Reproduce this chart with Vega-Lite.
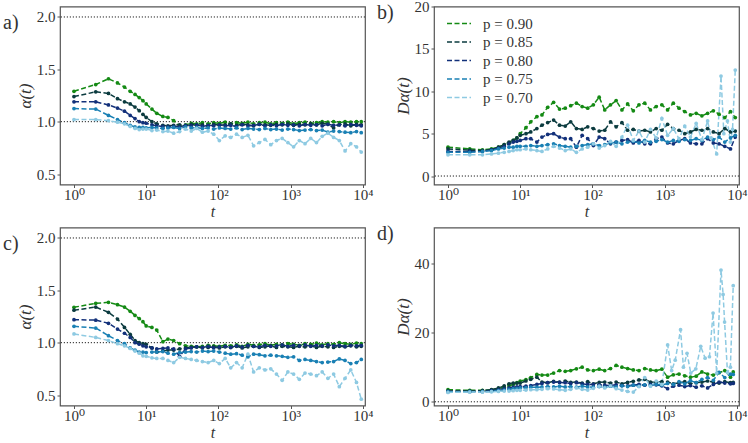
{
"$schema":"https://vega.github.io/schema/vega-lite/v6.json",
"padding":{"left":2,"top":-1.5,"right":0,"bottom":0},
"bounds":"flush",
"columns":2,
"spacing":{"row":43,"column":69},
"resolve":{"legend":{"color":"independent"}},
"config":{
"font":"Liberation Serif, DejaVu Serif, serif",
"view":{"stroke":"#555","strokeWidth":1.2},
"axis":{"grid":false,"domain":false,"ticks":true,"tickColor":"#555","tickSize":3,"labelFont":"Liberation Serif, DejaVu Serif, serif","labelFontSize":15,"labelColor":"#333","labelPadding":2,"titleFont":"Liberation Serif, DejaVu Serif, serif","titleFontSize":17,"titleFontWeight":"normal","titleFontStyle":"italic","titleColor":"#333","titlePadding":2},
"axisX":{"labelPadding":0,"titlePadding":1,"titleFontSize":16},
"title":{"font":"Liberation Serif, DejaVu Serif, serif","fontSize":20,"fontWeight":"normal","color":"#333","anchor":"start","frame":"group","orient":"none","baseline":"top"}
},
"datasets":{
"refA":[{"v":1},{"v":2}],
"refB":[{"v":0}],
"main":[
{"g":"a","p":"0.90","t":1,"v":1.29},{"g":"a","p":"0.90","t":2,"v":1.355},{"g":"a","p":"0.90","t":3,"v":1.41},{"g":"a","p":"0.90","t":4,"v":1.37},{"g":"a","p":"0.90","t":5,"v":1.33},{"g":"a","p":"0.90","t":6,"v":1.29},{"g":"a","p":"0.90","t":7,"v":1.26},{"g":"a","p":"0.90","t":8,"v":1.23},{"g":"a","p":"0.90","t":9,"v":1.2},{"g":"a","p":"0.90","t":10,"v":1.17},{"g":"a","p":"0.90","t":12,"v":1.12},{"g":"a","p":"0.90","t":14,"v":1.08},{"g":"a","p":"0.90","t":17,"v":1.05},{"g":"a","p":"0.90","t":20,"v":1.04},{"g":"a","p":"0.90","t":24,"v":1.01},{"g":"a","p":"0.90","t":29,"v":0.96},{"g":"a","p":"0.90","t":35,"v":0.97},{"g":"a","p":"0.90","t":42,"v":0.985},{"g":"a","p":"0.90","t":50,"v":0.98},{"g":"a","p":"0.90","t":60,"v":0.99},{"g":"a","p":"0.90","t":72,"v":0.98},{"g":"a","p":"0.90","t":86,"v":0.99},{"g":"a","p":"0.90","t":103,"v":0.985},{"g":"a","p":"0.90","t":124,"v":0.995},{"g":"a","p":"0.90","t":148,"v":0.98},{"g":"a","p":"0.90","t":178,"v":0.99},{"g":"a","p":"0.90","t":213,"v":0.985},{"g":"a","p":"0.90","t":256,"v":0.995},{"g":"a","p":"0.90","t":307,"v":0.98},{"g":"a","p":"0.90","t":368,"v":0.99},{"g":"a","p":"0.90","t":441,"v":0.995},{"g":"a","p":"0.90","t":530,"v":0.98},{"g":"a","p":"0.90","t":636,"v":0.99},{"g":"a","p":"0.90","t":763,"v":0.985},{"g":"a","p":"0.90","t":915,"v":0.995},{"g":"a","p":"0.90","t":1098,"v":0.98},{"g":"a","p":"0.90","t":1318,"v":0.99},{"g":"a","p":"0.90","t":1581,"v":0.995},{"g":"a","p":"0.90","t":1897,"v":0.985},{"g":"a","p":"0.90","t":2277,"v":0.99},{"g":"a","p":"0.90","t":2732,"v":1.0},{"g":"a","p":"0.90","t":3278,"v":0.995},{"g":"a","p":"0.90","t":3934,"v":1.0},{"g":"a","p":"0.90","t":4721,"v":0.99},{"g":"a","p":"0.90","t":5665,"v":1.0},{"g":"a","p":"0.90","t":6798,"v":0.995},{"g":"a","p":"0.90","t":8158,"v":1.0},{"g":"a","p":"0.90","t":9500,"v":1.0},
{"g":"a","p":"0.85","t":1,"v":1.24},{"g":"a","p":"0.85","t":2,"v":1.285},{"g":"a","p":"0.85","t":3,"v":1.27},{"g":"a","p":"0.85","t":4,"v":1.22},{"g":"a","p":"0.85","t":5,"v":1.19},{"g":"a","p":"0.85","t":6,"v":1.17},{"g":"a","p":"0.85","t":7,"v":1.14},{"g":"a","p":"0.85","t":8,"v":1.105},{"g":"a","p":"0.85","t":9,"v":1.07},{"g":"a","p":"0.85","t":10,"v":1.04},{"g":"a","p":"0.85","t":12,"v":1.0},{"g":"a","p":"0.85","t":14,"v":0.98},{"g":"a","p":"0.85","t":17,"v":0.965},{"g":"a","p":"0.85","t":20,"v":0.96},{"g":"a","p":"0.85","t":24,"v":0.965},{"g":"a","p":"0.85","t":29,"v":0.97},{"g":"a","p":"0.85","t":35,"v":0.96},{"g":"a","p":"0.85","t":42,"v":0.975},{"g":"a","p":"0.85","t":50,"v":0.965},{"g":"a","p":"0.85","t":60,"v":0.97},{"g":"a","p":"0.85","t":72,"v":0.96},{"g":"a","p":"0.85","t":86,"v":0.975},{"g":"a","p":"0.85","t":103,"v":0.965},{"g":"a","p":"0.85","t":124,"v":0.97},{"g":"a","p":"0.85","t":148,"v":0.98},{"g":"a","p":"0.85","t":178,"v":0.965},{"g":"a","p":"0.85","t":213,"v":0.975},{"g":"a","p":"0.85","t":256,"v":0.97},{"g":"a","p":"0.85","t":307,"v":0.96},{"g":"a","p":"0.85","t":368,"v":0.975},{"g":"a","p":"0.85","t":441,"v":0.97},{"g":"a","p":"0.85","t":530,"v":0.965},{"g":"a","p":"0.85","t":636,"v":0.975},{"g":"a","p":"0.85","t":763,"v":0.97},{"g":"a","p":"0.85","t":915,"v":0.98},{"g":"a","p":"0.85","t":1098,"v":0.965},{"g":"a","p":"0.85","t":1318,"v":0.975},{"g":"a","p":"0.85","t":1581,"v":0.97},{"g":"a","p":"0.85","t":1897,"v":0.98},{"g":"a","p":"0.85","t":2277,"v":0.97},{"g":"a","p":"0.85","t":2732,"v":0.985},{"g":"a","p":"0.85","t":3278,"v":0.975},{"g":"a","p":"0.85","t":3934,"v":0.94},{"g":"a","p":"0.85","t":4721,"v":0.97},{"g":"a","p":"0.85","t":5665,"v":0.98},{"g":"a","p":"0.85","t":6798,"v":0.96},{"g":"a","p":"0.85","t":8158,"v":0.975},{"g":"a","p":"0.85","t":9500,"v":0.97},
{"g":"a","p":"0.80","t":1,"v":1.19},{"g":"a","p":"0.80","t":2,"v":1.19},{"g":"a","p":"0.80","t":3,"v":1.16},{"g":"a","p":"0.80","t":4,"v":1.13},{"g":"a","p":"0.80","t":5,"v":1.1},{"g":"a","p":"0.80","t":6,"v":1.06},{"g":"a","p":"0.80","t":7,"v":1.03},{"g":"a","p":"0.80","t":8,"v":1.0},{"g":"a","p":"0.80","t":9,"v":0.99},{"g":"a","p":"0.80","t":10,"v":0.985},{"g":"a","p":"0.80","t":12,"v":0.97},{"g":"a","p":"0.80","t":14,"v":0.96},{"g":"a","p":"0.80","t":17,"v":0.955},{"g":"a","p":"0.80","t":20,"v":0.95},{"g":"a","p":"0.80","t":24,"v":0.955},{"g":"a","p":"0.80","t":29,"v":0.95},{"g":"a","p":"0.80","t":35,"v":0.965},{"g":"a","p":"0.80","t":42,"v":0.96},{"g":"a","p":"0.80","t":50,"v":0.97},{"g":"a","p":"0.80","t":60,"v":0.955},{"g":"a","p":"0.80","t":72,"v":0.965},{"g":"a","p":"0.80","t":86,"v":0.96},{"g":"a","p":"0.80","t":103,"v":0.97},{"g":"a","p":"0.80","t":124,"v":0.96},{"g":"a","p":"0.80","t":148,"v":0.965},{"g":"a","p":"0.80","t":178,"v":0.955},{"g":"a","p":"0.80","t":213,"v":0.97},{"g":"a","p":"0.80","t":256,"v":0.96},{"g":"a","p":"0.80","t":307,"v":0.965},{"g":"a","p":"0.80","t":368,"v":0.975},{"g":"a","p":"0.80","t":441,"v":0.96},{"g":"a","p":"0.80","t":530,"v":0.97},{"g":"a","p":"0.80","t":636,"v":0.96},{"g":"a","p":"0.80","t":763,"v":0.975},{"g":"a","p":"0.80","t":915,"v":0.965},{"g":"a","p":"0.80","t":1098,"v":0.97},{"g":"a","p":"0.80","t":1318,"v":0.96},{"g":"a","p":"0.80","t":1581,"v":0.975},{"g":"a","p":"0.80","t":1897,"v":0.965},{"g":"a","p":"0.80","t":2277,"v":0.97},{"g":"a","p":"0.80","t":2732,"v":0.96},{"g":"a","p":"0.80","t":3278,"v":0.975},{"g":"a","p":"0.80","t":3934,"v":0.965},{"g":"a","p":"0.80","t":4721,"v":0.97},{"g":"a","p":"0.80","t":5665,"v":0.96},{"g":"a","p":"0.80","t":6798,"v":0.975},{"g":"a","p":"0.80","t":8158,"v":0.965},{"g":"a","p":"0.80","t":9500,"v":0.96},
{"g":"a","p":"0.75","t":1,"v":1.125},{"g":"a","p":"0.75","t":2,"v":1.12},{"g":"a","p":"0.75","t":3,"v":1.06},{"g":"a","p":"0.75","t":4,"v":1.02},{"g":"a","p":"0.75","t":5,"v":0.99},{"g":"a","p":"0.75","t":6,"v":0.965},{"g":"a","p":"0.75","t":7,"v":0.95},{"g":"a","p":"0.75","t":8,"v":0.945},{"g":"a","p":"0.75","t":9,"v":0.945},{"g":"a","p":"0.75","t":10,"v":0.94},{"g":"a","p":"0.75","t":12,"v":0.945},{"g":"a","p":"0.75","t":14,"v":0.94},{"g":"a","p":"0.75","t":17,"v":0.935},{"g":"a","p":"0.75","t":20,"v":0.94},{"g":"a","p":"0.75","t":24,"v":0.945},{"g":"a","p":"0.75","t":29,"v":0.935},{"g":"a","p":"0.75","t":35,"v":0.95},{"g":"a","p":"0.75","t":42,"v":0.94},{"g":"a","p":"0.75","t":50,"v":0.945},{"g":"a","p":"0.75","t":60,"v":0.935},{"g":"a","p":"0.75","t":72,"v":0.94},{"g":"a","p":"0.75","t":86,"v":0.93},{"g":"a","p":"0.75","t":103,"v":0.94},{"g":"a","p":"0.75","t":124,"v":0.935},{"g":"a","p":"0.75","t":148,"v":0.93},{"g":"a","p":"0.75","t":178,"v":0.94},{"g":"a","p":"0.75","t":213,"v":0.925},{"g":"a","p":"0.75","t":256,"v":0.935},{"g":"a","p":"0.75","t":307,"v":0.93},{"g":"a","p":"0.75","t":368,"v":0.925},{"g":"a","p":"0.75","t":441,"v":0.935},{"g":"a","p":"0.75","t":530,"v":0.925},{"g":"a","p":"0.75","t":636,"v":0.93},{"g":"a","p":"0.75","t":763,"v":0.92},{"g":"a","p":"0.75","t":915,"v":0.93},{"g":"a","p":"0.75","t":1098,"v":0.925},{"g":"a","p":"0.75","t":1318,"v":0.915},{"g":"a","p":"0.75","t":1581,"v":0.92},{"g":"a","p":"0.75","t":1897,"v":0.925},{"g":"a","p":"0.75","t":2277,"v":0.915},{"g":"a","p":"0.75","t":2732,"v":0.92},{"g":"a","p":"0.75","t":3278,"v":0.9},{"g":"a","p":"0.75","t":3934,"v":0.91},{"g":"a","p":"0.75","t":4721,"v":0.905},{"g":"a","p":"0.75","t":5665,"v":0.9},{"g":"a","p":"0.75","t":6798,"v":0.895},{"g":"a","p":"0.75","t":8158,"v":0.905},{"g":"a","p":"0.75","t":9500,"v":0.895},
{"g":"a","p":"0.70","t":1,"v":1.02},{"g":"a","p":"0.70","t":2,"v":1.02},{"g":"a","p":"0.70","t":3,"v":1.01},{"g":"a","p":"0.70","t":4,"v":0.995},{"g":"a","p":"0.70","t":5,"v":0.98},{"g":"a","p":"0.70","t":6,"v":0.955},{"g":"a","p":"0.70","t":7,"v":0.935},{"g":"a","p":"0.70","t":8,"v":0.925},{"g":"a","p":"0.70","t":9,"v":0.93},{"g":"a","p":"0.70","t":10,"v":0.93},{"g":"a","p":"0.70","t":12,"v":0.915},{"g":"a","p":"0.70","t":14,"v":0.92},{"g":"a","p":"0.70","t":17,"v":0.905},{"g":"a","p":"0.70","t":20,"v":0.91},{"g":"a","p":"0.70","t":24,"v":0.89},{"g":"a","p":"0.70","t":29,"v":0.905},{"g":"a","p":"0.70","t":35,"v":0.93},{"g":"a","p":"0.70","t":42,"v":0.91},{"g":"a","p":"0.70","t":50,"v":0.935},{"g":"a","p":"0.70","t":60,"v":0.9},{"g":"a","p":"0.70","t":72,"v":0.91},{"g":"a","p":"0.70","t":86,"v":0.88},{"g":"a","p":"0.70","t":103,"v":0.82},{"g":"a","p":"0.70","t":124,"v":0.865},{"g":"a","p":"0.70","t":148,"v":0.85},{"g":"a","p":"0.70","t":178,"v":0.88},{"g":"a","p":"0.70","t":213,"v":0.85},{"g":"a","p":"0.70","t":256,"v":0.87},{"g":"a","p":"0.70","t":307,"v":0.77},{"g":"a","p":"0.70","t":368,"v":0.8},{"g":"a","p":"0.70","t":441,"v":0.83},{"g":"a","p":"0.70","t":530,"v":0.78},{"g":"a","p":"0.70","t":636,"v":0.82},{"g":"a","p":"0.70","t":763,"v":0.84},{"g":"a","p":"0.70","t":915,"v":0.8},{"g":"a","p":"0.70","t":1098,"v":0.76},{"g":"a","p":"0.70","t":1318,"v":0.82},{"g":"a","p":"0.70","t":1581,"v":0.79},{"g":"a","p":"0.70","t":1897,"v":0.84},{"g":"a","p":"0.70","t":2277,"v":0.8},{"g":"a","p":"0.70","t":2732,"v":0.86},{"g":"a","p":"0.70","t":3278,"v":0.89},{"g":"a","p":"0.70","t":3934,"v":0.85},{"g":"a","p":"0.70","t":4721,"v":0.82},{"g":"a","p":"0.70","t":5665,"v":0.72},{"g":"a","p":"0.70","t":6798,"v":0.79},{"g":"a","p":"0.70","t":8158,"v":0.76},{"g":"a","p":"0.70","t":9500,"v":0.71},
{"g":"b","p":"0.90","t":1,"v":3.4},{"g":"b","p":"0.90","t":2,"v":3.2},{"g":"b","p":"0.90","t":3,"v":3.1},{"g":"b","p":"0.90","t":4,"v":3.2},{"g":"b","p":"0.90","t":5,"v":3.4},{"g":"b","p":"0.90","t":6,"v":3.7},{"g":"b","p":"0.90","t":7,"v":3.9},{"g":"b","p":"0.90","t":8,"v":4.2},{"g":"b","p":"0.90","t":9,"v":4.5},{"g":"b","p":"0.90","t":10,"v":5.0},{"g":"b","p":"0.90","t":12,"v":5.7},{"g":"b","p":"0.90","t":14,"v":6.4},{"g":"b","p":"0.90","t":17,"v":7.0},{"g":"b","p":"0.90","t":20,"v":7.2},{"g":"b","p":"0.90","t":24,"v":8.1},{"g":"b","p":"0.90","t":29,"v":8.7},{"g":"b","p":"0.90","t":35,"v":7.9},{"g":"b","p":"0.90","t":42,"v":8.0},{"g":"b","p":"0.90","t":50,"v":8.3},{"g":"b","p":"0.90","t":60,"v":8.6},{"g":"b","p":"0.90","t":72,"v":8.2},{"g":"b","p":"0.90","t":86,"v":8.0},{"g":"b","p":"0.90","t":103,"v":8.4},{"g":"b","p":"0.90","t":124,"v":9.3},{"g":"b","p":"0.90","t":148,"v":7.8},{"g":"b","p":"0.90","t":178,"v":8.4},{"g":"b","p":"0.90","t":213,"v":8.9},{"g":"b","p":"0.90","t":256,"v":7.8},{"g":"b","p":"0.90","t":307,"v":8.5},{"g":"b","p":"0.90","t":368,"v":7.7},{"g":"b","p":"0.90","t":441,"v":8.4},{"g":"b","p":"0.90","t":530,"v":8.6},{"g":"b","p":"0.90","t":636,"v":7.8},{"g":"b","p":"0.90","t":763,"v":8.2},{"g":"b","p":"0.90","t":915,"v":8.4},{"g":"b","p":"0.90","t":1098,"v":7.8},{"g":"b","p":"0.90","t":1318,"v":8.6},{"g":"b","p":"0.90","t":1581,"v":8.0},{"g":"b","p":"0.90","t":1897,"v":7.6},{"g":"b","p":"0.90","t":2277,"v":7.2},{"g":"b","p":"0.90","t":2732,"v":7.4},{"g":"b","p":"0.90","t":3278,"v":7.1},{"g":"b","p":"0.90","t":3934,"v":7.4},{"g":"b","p":"0.90","t":4721,"v":7.7},{"g":"b","p":"0.90","t":5665,"v":7.3},{"g":"b","p":"0.90","t":6798,"v":6.9},{"g":"b","p":"0.90","t":8158,"v":7.6},{"g":"b","p":"0.90","t":9500,"v":6.9},
{"g":"b","p":"0.85","t":1,"v":3.2},{"g":"b","p":"0.85","t":2,"v":3.05},{"g":"b","p":"0.85","t":3,"v":3.0},{"g":"b","p":"0.85","t":4,"v":3.1},{"g":"b","p":"0.85","t":5,"v":3.4},{"g":"b","p":"0.85","t":6,"v":3.7},{"g":"b","p":"0.85","t":7,"v":4.0},{"g":"b","p":"0.85","t":8,"v":4.2},{"g":"b","p":"0.85","t":9,"v":4.5},{"g":"b","p":"0.85","t":10,"v":4.8},{"g":"b","p":"0.85","t":12,"v":5.0},{"g":"b","p":"0.85","t":14,"v":5.2},{"g":"b","p":"0.85","t":17,"v":5.6},{"g":"b","p":"0.85","t":20,"v":6.0},{"g":"b","p":"0.85","t":24,"v":6.3},{"g":"b","p":"0.85","t":29,"v":6.6},{"g":"b","p":"0.85","t":35,"v":6.0},{"g":"b","p":"0.85","t":42,"v":5.9},{"g":"b","p":"0.85","t":50,"v":6.4},{"g":"b","p":"0.85","t":60,"v":5.6},{"g":"b","p":"0.85","t":72,"v":5.5},{"g":"b","p":"0.85","t":86,"v":5.8},{"g":"b","p":"0.85","t":103,"v":5.6},{"g":"b","p":"0.85","t":124,"v":5.3},{"g":"b","p":"0.85","t":148,"v":5.4},{"g":"b","p":"0.85","t":178,"v":6.4},{"g":"b","p":"0.85","t":213,"v":5.8},{"g":"b","p":"0.85","t":256,"v":6.3},{"g":"b","p":"0.85","t":307,"v":5.4},{"g":"b","p":"0.85","t":368,"v":5.5},{"g":"b","p":"0.85","t":441,"v":5.3},{"g":"b","p":"0.85","t":530,"v":5.4},{"g":"b","p":"0.85","t":636,"v":5.2},{"g":"b","p":"0.85","t":763,"v":5.6},{"g":"b","p":"0.85","t":915,"v":5.4},{"g":"b","p":"0.85","t":1098,"v":6.1},{"g":"b","p":"0.85","t":1318,"v":5.6},{"g":"b","p":"0.85","t":1581,"v":5.4},{"g":"b","p":"0.85","t":1897,"v":5.0},{"g":"b","p":"0.85","t":2277,"v":5.2},{"g":"b","p":"0.85","t":2732,"v":5.5},{"g":"b","p":"0.85","t":3278,"v":5.4},{"g":"b","p":"0.85","t":3934,"v":5.6},{"g":"b","p":"0.85","t":4721,"v":5.2},{"g":"b","p":"0.85","t":5665,"v":5.0},{"g":"b","p":"0.85","t":6798,"v":5.6},{"g":"b","p":"0.85","t":8158,"v":5.2},{"g":"b","p":"0.85","t":9500,"v":5.3},
{"g":"b","p":"0.80","t":1,"v":2.9},{"g":"b","p":"0.80","t":2,"v":2.9},{"g":"b","p":"0.80","t":3,"v":2.9},{"g":"b","p":"0.80","t":4,"v":3.1},{"g":"b","p":"0.80","t":5,"v":3.3},{"g":"b","p":"0.80","t":6,"v":3.5},{"g":"b","p":"0.80","t":7,"v":3.8},{"g":"b","p":"0.80","t":8,"v":4.0},{"g":"b","p":"0.80","t":9,"v":4.1},{"g":"b","p":"0.80","t":10,"v":4.2},{"g":"b","p":"0.80","t":12,"v":4.4},{"g":"b","p":"0.80","t":14,"v":4.4},{"g":"b","p":"0.80","t":17,"v":4.0},{"g":"b","p":"0.80","t":20,"v":4.6},{"g":"b","p":"0.80","t":24,"v":4.9},{"g":"b","p":"0.80","t":29,"v":5.0},{"g":"b","p":"0.80","t":35,"v":4.6},{"g":"b","p":"0.80","t":42,"v":4.4},{"g":"b","p":"0.80","t":50,"v":4.4},{"g":"b","p":"0.80","t":60,"v":3.4},{"g":"b","p":"0.80","t":72,"v":4.8},{"g":"b","p":"0.80","t":86,"v":4.4},{"g":"b","p":"0.80","t":103,"v":3.6},{"g":"b","p":"0.80","t":124,"v":4.6},{"g":"b","p":"0.80","t":148,"v":4.4},{"g":"b","p":"0.80","t":178,"v":3.8},{"g":"b","p":"0.80","t":213,"v":4.0},{"g":"b","p":"0.80","t":256,"v":4.2},{"g":"b","p":"0.80","t":307,"v":4.3},{"g":"b","p":"0.80","t":368,"v":3.9},{"g":"b","p":"0.80","t":441,"v":4.2},{"g":"b","p":"0.80","t":530,"v":3.8},{"g":"b","p":"0.80","t":636,"v":3.8},{"g":"b","p":"0.80","t":763,"v":4.4},{"g":"b","p":"0.80","t":915,"v":4.6},{"g":"b","p":"0.80","t":1098,"v":3.9},{"g":"b","p":"0.80","t":1318,"v":3.8},{"g":"b","p":"0.80","t":1581,"v":4.2},{"g":"b","p":"0.80","t":1897,"v":4.4},{"g":"b","p":"0.80","t":2277,"v":3.9},{"g":"b","p":"0.80","t":2732,"v":3.8},{"g":"b","p":"0.80","t":3278,"v":3.8},{"g":"b","p":"0.80","t":3934,"v":4.4},{"g":"b","p":"0.80","t":4721,"v":3.9},{"g":"b","p":"0.80","t":5665,"v":3.8},{"g":"b","p":"0.80","t":6798,"v":3.5},{"g":"b","p":"0.80","t":8158,"v":3.2},{"g":"b","p":"0.80","t":9500,"v":4.6},
{"g":"b","p":"0.75","t":1,"v":2.8},{"g":"b","p":"0.75","t":2,"v":2.8},{"g":"b","p":"0.75","t":3,"v":2.9},{"g":"b","p":"0.75","t":4,"v":3.0},{"g":"b","p":"0.75","t":5,"v":3.2},{"g":"b","p":"0.75","t":6,"v":3.3},{"g":"b","p":"0.75","t":7,"v":3.4},{"g":"b","p":"0.75","t":8,"v":3.4},{"g":"b","p":"0.75","t":9,"v":3.5},{"g":"b","p":"0.75","t":10,"v":3.5},{"g":"b","p":"0.75","t":12,"v":3.5},{"g":"b","p":"0.75","t":14,"v":3.6},{"g":"b","p":"0.75","t":17,"v":3.5},{"g":"b","p":"0.75","t":20,"v":3.6},{"g":"b","p":"0.75","t":24,"v":3.7},{"g":"b","p":"0.75","t":29,"v":3.8},{"g":"b","p":"0.75","t":35,"v":3.6},{"g":"b","p":"0.75","t":42,"v":3.5},{"g":"b","p":"0.75","t":50,"v":3.4},{"g":"b","p":"0.75","t":60,"v":3.5},{"g":"b","p":"0.75","t":72,"v":3.6},{"g":"b","p":"0.75","t":86,"v":3.7},{"g":"b","p":"0.75","t":103,"v":3.8},{"g":"b","p":"0.75","t":124,"v":3.6},{"g":"b","p":"0.75","t":148,"v":3.7},{"g":"b","p":"0.75","t":178,"v":3.9},{"g":"b","p":"0.75","t":213,"v":4.0},{"g":"b","p":"0.75","t":256,"v":3.8},{"g":"b","p":"0.75","t":307,"v":4.0},{"g":"b","p":"0.75","t":368,"v":4.1},{"g":"b","p":"0.75","t":441,"v":3.9},{"g":"b","p":"0.75","t":530,"v":4.2},{"g":"b","p":"0.75","t":636,"v":4.0},{"g":"b","p":"0.75","t":763,"v":4.1},{"g":"b","p":"0.75","t":915,"v":4.3},{"g":"b","p":"0.75","t":1098,"v":4.0},{"g":"b","p":"0.75","t":1318,"v":4.2},{"g":"b","p":"0.75","t":1581,"v":4.1},{"g":"b","p":"0.75","t":1897,"v":4.3},{"g":"b","p":"0.75","t":2277,"v":4.2},{"g":"b","p":"0.75","t":2732,"v":4.4},{"g":"b","p":"0.75","t":3278,"v":4.2},{"g":"b","p":"0.75","t":3934,"v":4.6},{"g":"b","p":"0.75","t":4721,"v":4.3},{"g":"b","p":"0.75","t":5665,"v":4.6},{"g":"b","p":"0.75","t":6798,"v":4.0},{"g":"b","p":"0.75","t":8158,"v":4.5},{"g":"b","p":"0.75","t":9500,"v":4.8},
{"g":"b","p":"0.70","t":1,"v":2.5},{"g":"b","p":"0.70","t":2,"v":2.5},{"g":"b","p":"0.70","t":3,"v":2.5},{"g":"b","p":"0.70","t":4,"v":2.6},{"g":"b","p":"0.70","t":5,"v":2.7},{"g":"b","p":"0.70","t":6,"v":2.8},{"g":"b","p":"0.70","t":7,"v":2.9},{"g":"b","p":"0.70","t":8,"v":3.0},{"g":"b","p":"0.70","t":9,"v":3.1},{"g":"b","p":"0.70","t":10,"v":3.1},{"g":"b","p":"0.70","t":12,"v":3.2},{"g":"b","p":"0.70","t":14,"v":3.1},{"g":"b","p":"0.70","t":17,"v":3.0},{"g":"b","p":"0.70","t":20,"v":2.9},{"g":"b","p":"0.70","t":24,"v":3.2},{"g":"b","p":"0.70","t":29,"v":3.5},{"g":"b","p":"0.70","t":35,"v":3.3},{"g":"b","p":"0.70","t":42,"v":3.0},{"g":"b","p":"0.70","t":50,"v":3.2},{"g":"b","p":"0.70","t":60,"v":2.8},{"g":"b","p":"0.70","t":72,"v":3.2},{"g":"b","p":"0.70","t":86,"v":3.4},{"g":"b","p":"0.70","t":103,"v":3.8},{"g":"b","p":"0.70","t":124,"v":3.3},{"g":"b","p":"0.70","t":148,"v":3.6},{"g":"b","p":"0.70","t":178,"v":4.1},{"g":"b","p":"0.70","t":213,"v":3.5},{"g":"b","p":"0.70","t":256,"v":4.6},{"g":"b","p":"0.70","t":307,"v":6.0},{"g":"b","p":"0.70","t":368,"v":4.2},{"g":"b","p":"0.70","t":441,"v":5.3},{"g":"b","p":"0.70","t":530,"v":4.0},{"g":"b","p":"0.70","t":636,"v":5.5},{"g":"b","p":"0.70","t":763,"v":4.5},{"g":"b","p":"0.70","t":915,"v":6.8},{"g":"b","p":"0.70","t":1098,"v":4.8},{"g":"b","p":"0.70","t":1318,"v":5.6},{"g":"b","p":"0.70","t":1581,"v":4.4},{"g":"b","p":"0.70","t":1897,"v":5.9},{"g":"b","p":"0.70","t":2277,"v":4.6},{"g":"b","p":"0.70","t":2732,"v":6.2},{"g":"b","p":"0.70","t":3278,"v":4.3},{"g":"b","p":"0.70","t":3934,"v":6.5},{"g":"b","p":"0.70","t":4400,"v":4.5},{"g":"b","p":"0.70","t":5250,"v":2.6},{"g":"b","p":"0.70","t":6030,"v":11.8},{"g":"b","p":"0.70","t":6600,"v":5.0},{"g":"b","p":"0.70","t":7400,"v":6.5},{"g":"b","p":"0.70","t":8130,"v":4.0},{"g":"b","p":"0.70","t":8700,"v":5.5},{"g":"b","p":"0.70","t":9500,"v":12.5},
{"g":"c","p":"0.90","t":1,"v":1.338},{"g":"c","p":"0.90","t":2,"v":1.376},{"g":"c","p":"0.90","t":3,"v":1.385},{"g":"c","p":"0.90","t":4,"v":1.363},{"g":"c","p":"0.90","t":5,"v":1.34},{"g":"c","p":"0.90","t":6,"v":1.3},{"g":"c","p":"0.90","t":7,"v":1.26},{"g":"c","p":"0.90","t":8,"v":1.23},{"g":"c","p":"0.90","t":9,"v":1.2},{"g":"c","p":"0.90","t":10,"v":1.16},{"g":"c","p":"0.90","t":12,"v":1.145},{"g":"c","p":"0.90","t":14,"v":1.12},{"g":"c","p":"0.90","t":17,"v":1.01},{"g":"c","p":"0.90","t":20,"v":1.035},{"g":"c","p":"0.90","t":24,"v":1.02},{"g":"c","p":"0.90","t":29,"v":0.99},{"g":"c","p":"0.90","t":35,"v":0.97},{"g":"c","p":"0.90","t":42,"v":0.965},{"g":"c","p":"0.90","t":50,"v":0.96},{"g":"c","p":"0.90","t":60,"v":0.965},{"g":"c","p":"0.90","t":72,"v":0.975},{"g":"c","p":"0.90","t":86,"v":0.97},{"g":"c","p":"0.90","t":103,"v":0.965},{"g":"c","p":"0.90","t":124,"v":0.975},{"g":"c","p":"0.90","t":148,"v":0.97},{"g":"c","p":"0.90","t":178,"v":0.98},{"g":"c","p":"0.90","t":213,"v":0.965},{"g":"c","p":"0.90","t":256,"v":0.985},{"g":"c","p":"0.90","t":307,"v":0.975},{"g":"c","p":"0.90","t":368,"v":0.98},{"g":"c","p":"0.90","t":441,"v":0.99},{"g":"c","p":"0.90","t":530,"v":0.975},{"g":"c","p":"0.90","t":636,"v":0.985},{"g":"c","p":"0.90","t":763,"v":0.98},{"g":"c","p":"0.90","t":915,"v":0.99},{"g":"c","p":"0.90","t":1098,"v":0.985},{"g":"c","p":"0.90","t":1318,"v":0.975},{"g":"c","p":"0.90","t":1581,"v":0.99},{"g":"c","p":"0.90","t":1897,"v":0.985},{"g":"c","p":"0.90","t":2277,"v":0.995},{"g":"c","p":"0.90","t":2732,"v":0.98},{"g":"c","p":"0.90","t":3278,"v":0.99},{"g":"c","p":"0.90","t":3934,"v":0.985},{"g":"c","p":"0.90","t":4721,"v":1.0},{"g":"c","p":"0.90","t":5665,"v":0.99},{"g":"c","p":"0.90","t":6798,"v":0.985},{"g":"c","p":"0.90","t":8158,"v":0.995},{"g":"c","p":"0.90","t":9500,"v":0.99},
{"g":"c","p":"0.85","t":1,"v":1.31},{"g":"c","p":"0.85","t":2,"v":1.34},{"g":"c","p":"0.85","t":3,"v":1.29},{"g":"c","p":"0.85","t":4,"v":1.226},{"g":"c","p":"0.85","t":5,"v":1.146},{"g":"c","p":"0.85","t":6,"v":1.08},{"g":"c","p":"0.85","t":7,"v":1.02},{"g":"c","p":"0.85","t":8,"v":1.0},{"g":"c","p":"0.85","t":9,"v":0.99},{"g":"c","p":"0.85","t":10,"v":0.985},{"g":"c","p":"0.85","t":12,"v":0.95},{"g":"c","p":"0.85","t":14,"v":0.91},{"g":"c","p":"0.85","t":17,"v":0.92},{"g":"c","p":"0.85","t":20,"v":0.93},{"g":"c","p":"0.85","t":24,"v":0.93},{"g":"c","p":"0.85","t":29,"v":0.94},{"g":"c","p":"0.85","t":35,"v":0.95},{"g":"c","p":"0.85","t":42,"v":0.955},{"g":"c","p":"0.85","t":50,"v":0.96},{"g":"c","p":"0.85","t":60,"v":0.95},{"g":"c","p":"0.85","t":72,"v":0.955},{"g":"c","p":"0.85","t":86,"v":0.96},{"g":"c","p":"0.85","t":103,"v":0.95},{"g":"c","p":"0.85","t":124,"v":0.96},{"g":"c","p":"0.85","t":148,"v":0.955},{"g":"c","p":"0.85","t":178,"v":0.965},{"g":"c","p":"0.85","t":213,"v":0.95},{"g":"c","p":"0.85","t":256,"v":0.96},{"g":"c","p":"0.85","t":307,"v":0.965},{"g":"c","p":"0.85","t":368,"v":0.955},{"g":"c","p":"0.85","t":441,"v":0.96},{"g":"c","p":"0.85","t":530,"v":0.97},{"g":"c","p":"0.85","t":636,"v":0.955},{"g":"c","p":"0.85","t":763,"v":0.965},{"g":"c","p":"0.85","t":915,"v":0.96},{"g":"c","p":"0.85","t":1098,"v":0.955},{"g":"c","p":"0.85","t":1318,"v":0.965},{"g":"c","p":"0.85","t":1581,"v":0.96},{"g":"c","p":"0.85","t":1897,"v":0.97},{"g":"c","p":"0.85","t":2277,"v":0.955},{"g":"c","p":"0.85","t":2732,"v":0.965},{"g":"c","p":"0.85","t":3278,"v":0.96},{"g":"c","p":"0.85","t":3934,"v":0.955},{"g":"c","p":"0.85","t":4721,"v":0.965},{"g":"c","p":"0.85","t":5665,"v":0.96},{"g":"c","p":"0.85","t":6798,"v":0.97},{"g":"c","p":"0.85","t":8158,"v":0.96},{"g":"c","p":"0.85","t":9500,"v":0.965},
{"g":"c","p":"0.80","t":1,"v":1.22},{"g":"c","p":"0.80","t":2,"v":1.215},{"g":"c","p":"0.80","t":3,"v":1.185},{"g":"c","p":"0.80","t":4,"v":1.13},{"g":"c","p":"0.80","t":5,"v":1.09},{"g":"c","p":"0.80","t":6,"v":1.05},{"g":"c","p":"0.80","t":7,"v":1.0},{"g":"c","p":"0.80","t":8,"v":0.985},{"g":"c","p":"0.80","t":9,"v":0.97},{"g":"c","p":"0.80","t":10,"v":0.96},{"g":"c","p":"0.80","t":12,"v":0.95},{"g":"c","p":"0.80","t":14,"v":0.94},{"g":"c","p":"0.80","t":17,"v":0.945},{"g":"c","p":"0.80","t":20,"v":0.95},{"g":"c","p":"0.80","t":24,"v":0.94},{"g":"c","p":"0.80","t":29,"v":0.87},{"g":"c","p":"0.80","t":35,"v":0.94},{"g":"c","p":"0.80","t":42,"v":0.95},{"g":"c","p":"0.80","t":50,"v":0.96},{"g":"c","p":"0.80","t":60,"v":0.955},{"g":"c","p":"0.80","t":72,"v":0.965},{"g":"c","p":"0.80","t":86,"v":0.95},{"g":"c","p":"0.80","t":103,"v":0.96},{"g":"c","p":"0.80","t":124,"v":0.965},{"g":"c","p":"0.80","t":148,"v":0.955},{"g":"c","p":"0.80","t":178,"v":0.97},{"g":"c","p":"0.80","t":213,"v":0.96},{"g":"c","p":"0.80","t":256,"v":0.975},{"g":"c","p":"0.80","t":307,"v":0.965},{"g":"c","p":"0.80","t":368,"v":0.96},{"g":"c","p":"0.80","t":441,"v":0.975},{"g":"c","p":"0.80","t":530,"v":0.965},{"g":"c","p":"0.80","t":636,"v":0.97},{"g":"c","p":"0.80","t":763,"v":0.98},{"g":"c","p":"0.80","t":915,"v":0.965},{"g":"c","p":"0.80","t":1098,"v":0.975},{"g":"c","p":"0.80","t":1318,"v":0.97},{"g":"c","p":"0.80","t":1581,"v":0.98},{"g":"c","p":"0.80","t":1897,"v":0.965},{"g":"c","p":"0.80","t":2277,"v":0.975},{"g":"c","p":"0.80","t":2732,"v":0.97},{"g":"c","p":"0.80","t":3278,"v":0.98},{"g":"c","p":"0.80","t":3934,"v":0.97},{"g":"c","p":"0.80","t":4721,"v":0.975},{"g":"c","p":"0.80","t":5665,"v":0.965},{"g":"c","p":"0.80","t":6798,"v":0.975},{"g":"c","p":"0.80","t":8158,"v":0.97},{"g":"c","p":"0.80","t":9500,"v":0.975},
{"g":"c","p":"0.75","t":1,"v":1.156},{"g":"c","p":"0.75","t":2,"v":1.14},{"g":"c","p":"0.75","t":3,"v":1.067},{"g":"c","p":"0.75","t":4,"v":1.02},{"g":"c","p":"0.75","t":5,"v":0.99},{"g":"c","p":"0.75","t":6,"v":0.95},{"g":"c","p":"0.75","t":7,"v":0.93},{"g":"c","p":"0.75","t":8,"v":0.91},{"g":"c","p":"0.75","t":9,"v":0.91},{"g":"c","p":"0.75","t":10,"v":0.905},{"g":"c","p":"0.75","t":12,"v":0.91},{"g":"c","p":"0.75","t":14,"v":0.91},{"g":"c","p":"0.75","t":17,"v":0.915},{"g":"c","p":"0.75","t":20,"v":0.9},{"g":"c","p":"0.75","t":24,"v":0.89},{"g":"c","p":"0.75","t":29,"v":0.905},{"g":"c","p":"0.75","t":35,"v":0.91},{"g":"c","p":"0.75","t":42,"v":0.915},{"g":"c","p":"0.75","t":50,"v":0.91},{"g":"c","p":"0.75","t":60,"v":0.92},{"g":"c","p":"0.75","t":72,"v":0.915},{"g":"c","p":"0.75","t":86,"v":0.92},{"g":"c","p":"0.75","t":103,"v":0.91},{"g":"c","p":"0.75","t":124,"v":0.9},{"g":"c","p":"0.75","t":148,"v":0.89},{"g":"c","p":"0.75","t":178,"v":0.895},{"g":"c","p":"0.75","t":213,"v":0.88},{"g":"c","p":"0.75","t":256,"v":0.865},{"g":"c","p":"0.75","t":307,"v":0.89},{"g":"c","p":"0.75","t":368,"v":0.885},{"g":"c","p":"0.75","t":441,"v":0.875},{"g":"c","p":"0.75","t":530,"v":0.88},{"g":"c","p":"0.75","t":636,"v":0.875},{"g":"c","p":"0.75","t":763,"v":0.87},{"g":"c","p":"0.75","t":915,"v":0.86},{"g":"c","p":"0.75","t":1098,"v":0.865},{"g":"c","p":"0.75","t":1318,"v":0.83},{"g":"c","p":"0.75","t":1581,"v":0.84},{"g":"c","p":"0.75","t":1897,"v":0.83},{"g":"c","p":"0.75","t":2277,"v":0.82},{"g":"c","p":"0.75","t":2732,"v":0.81},{"g":"c","p":"0.75","t":3278,"v":0.815},{"g":"c","p":"0.75","t":3934,"v":0.82},{"g":"c","p":"0.75","t":4721,"v":0.845},{"g":"c","p":"0.75","t":5665,"v":0.83},{"g":"c","p":"0.75","t":6798,"v":0.8},{"g":"c","p":"0.75","t":8158,"v":0.81},{"g":"c","p":"0.75","t":9500,"v":0.84},
{"g":"c","p":"0.70","t":1,"v":1.083},{"g":"c","p":"0.70","t":2,"v":1.05},{"g":"c","p":"0.70","t":3,"v":1.02},{"g":"c","p":"0.70","t":4,"v":0.99},{"g":"c","p":"0.70","t":5,"v":0.97},{"g":"c","p":"0.70","t":6,"v":0.945},{"g":"c","p":"0.70","t":7,"v":0.92},{"g":"c","p":"0.70","t":8,"v":0.9},{"g":"c","p":"0.70","t":9,"v":0.875},{"g":"c","p":"0.70","t":10,"v":0.87},{"g":"c","p":"0.70","t":12,"v":0.855},{"g":"c","p":"0.70","t":14,"v":0.85},{"g":"c","p":"0.70","t":17,"v":0.85},{"g":"c","p":"0.70","t":20,"v":0.83},{"g":"c","p":"0.70","t":24,"v":0.81},{"g":"c","p":"0.70","t":29,"v":0.86},{"g":"c","p":"0.70","t":35,"v":0.85},{"g":"c","p":"0.70","t":42,"v":0.84},{"g":"c","p":"0.70","t":50,"v":0.83},{"g":"c","p":"0.70","t":60,"v":0.82},{"g":"c","p":"0.70","t":72,"v":0.81},{"g":"c","p":"0.70","t":86,"v":0.83},{"g":"c","p":"0.70","t":103,"v":0.8},{"g":"c","p":"0.70","t":124,"v":0.85},{"g":"c","p":"0.70","t":148,"v":0.76},{"g":"c","p":"0.70","t":178,"v":0.81},{"g":"c","p":"0.70","t":213,"v":0.76},{"g":"c","p":"0.70","t":256,"v":0.89},{"g":"c","p":"0.70","t":307,"v":0.72},{"g":"c","p":"0.70","t":368,"v":0.76},{"g":"c","p":"0.70","t":441,"v":0.74},{"g":"c","p":"0.70","t":530,"v":0.75},{"g":"c","p":"0.70","t":636,"v":0.7},{"g":"c","p":"0.70","t":763,"v":0.64},{"g":"c","p":"0.70","t":915,"v":0.72},{"g":"c","p":"0.70","t":1098,"v":0.7},{"g":"c","p":"0.70","t":1318,"v":0.65},{"g":"c","p":"0.70","t":1581,"v":0.71},{"g":"c","p":"0.70","t":1897,"v":0.7},{"g":"c","p":"0.70","t":2277,"v":0.685},{"g":"c","p":"0.70","t":2732,"v":0.72},{"g":"c","p":"0.70","t":3278,"v":0.66},{"g":"c","p":"0.70","t":3934,"v":0.7},{"g":"c","p":"0.70","t":4721,"v":0.58},{"g":"c","p":"0.70","t":5665,"v":0.66},{"g":"c","p":"0.70","t":6798,"v":0.74},{"g":"c","p":"0.70","t":8158,"v":0.62},{"g":"c","p":"0.70","t":9500,"v":0.46},
{"g":"d","p":"0.90","t":1,"v":3.5},{"g":"d","p":"0.90","t":2,"v":3.3},{"g":"d","p":"0.90","t":3,"v":3.3},{"g":"d","p":"0.90","t":4,"v":3.4},{"g":"d","p":"0.90","t":5,"v":3.8},{"g":"d","p":"0.90","t":6,"v":4.2},{"g":"d","p":"0.90","t":7,"v":4.6},{"g":"d","p":"0.90","t":8,"v":5.0},{"g":"d","p":"0.90","t":9,"v":5.5},{"g":"d","p":"0.90","t":10,"v":6.0},{"g":"d","p":"0.90","t":12,"v":6.4},{"g":"d","p":"0.90","t":14,"v":7.0},{"g":"d","p":"0.90","t":17,"v":7.9},{"g":"d","p":"0.90","t":20,"v":7.7},{"g":"d","p":"0.90","t":24,"v":7.7},{"g":"d","p":"0.90","t":29,"v":8.3},{"g":"d","p":"0.90","t":35,"v":9.0},{"g":"d","p":"0.90","t":42,"v":8.8},{"g":"d","p":"0.90","t":50,"v":9.0},{"g":"d","p":"0.90","t":60,"v":9.5},{"g":"d","p":"0.90","t":72,"v":10.0},{"g":"d","p":"0.90","t":86,"v":9.2},{"g":"d","p":"0.90","t":103,"v":9.0},{"g":"d","p":"0.90","t":124,"v":9.4},{"g":"d","p":"0.90","t":148,"v":9.0},{"g":"d","p":"0.90","t":178,"v":9.6},{"g":"d","p":"0.90","t":213,"v":10.5},{"g":"d","p":"0.90","t":256,"v":10.0},{"g":"d","p":"0.90","t":307,"v":9.6},{"g":"d","p":"0.90","t":368,"v":9.2},{"g":"d","p":"0.90","t":441,"v":9.0},{"g":"d","p":"0.90","t":530,"v":9.6},{"g":"d","p":"0.90","t":636,"v":9.2},{"g":"d","p":"0.90","t":763,"v":9.0},{"g":"d","p":"0.90","t":915,"v":9.4},{"g":"d","p":"0.90","t":1098,"v":7.1},{"g":"d","p":"0.90","t":1318,"v":7.8},{"g":"d","p":"0.90","t":1581,"v":8.0},{"g":"d","p":"0.90","t":1897,"v":7.5},{"g":"d","p":"0.90","t":2277,"v":7.1},{"g":"d","p":"0.90","t":2732,"v":7.4},{"g":"d","p":"0.90","t":3278,"v":8.6},{"g":"d","p":"0.90","t":3934,"v":8.0},{"g":"d","p":"0.90","t":4721,"v":7.7},{"g":"d","p":"0.90","t":5665,"v":8.4},{"g":"d","p":"0.90","t":6798,"v":9.0},{"g":"d","p":"0.90","t":8158,"v":7.1},{"g":"d","p":"0.90","t":8900,"v":8.6},
{"g":"d","p":"0.85","t":1,"v":3.1},{"g":"d","p":"0.85","t":2,"v":3.1},{"g":"d","p":"0.85","t":3,"v":3.2},{"g":"d","p":"0.85","t":4,"v":3.5},{"g":"d","p":"0.85","t":5,"v":4.0},{"g":"d","p":"0.85","t":6,"v":4.6},{"g":"d","p":"0.85","t":7,"v":5.2},{"g":"d","p":"0.85","t":8,"v":5.4},{"g":"d","p":"0.85","t":9,"v":5.4},{"g":"d","p":"0.85","t":10,"v":5.4},{"g":"d","p":"0.85","t":12,"v":6.0},{"g":"d","p":"0.85","t":14,"v":6.5},{"g":"d","p":"0.85","t":17,"v":7.1},{"g":"d","p":"0.85","t":20,"v":5.7},{"g":"d","p":"0.85","t":24,"v":5.5},{"g":"d","p":"0.85","t":29,"v":5.9},{"g":"d","p":"0.85","t":35,"v":5.7},{"g":"d","p":"0.85","t":42,"v":6.0},{"g":"d","p":"0.85","t":50,"v":5.6},{"g":"d","p":"0.85","t":60,"v":5.7},{"g":"d","p":"0.85","t":72,"v":5.4},{"g":"d","p":"0.85","t":86,"v":5.8},{"g":"d","p":"0.85","t":103,"v":5.2},{"g":"d","p":"0.85","t":124,"v":5.6},{"g":"d","p":"0.85","t":148,"v":5.7},{"g":"d","p":"0.85","t":178,"v":5.4},{"g":"d","p":"0.85","t":213,"v":5.7},{"g":"d","p":"0.85","t":256,"v":5.2},{"g":"d","p":"0.85","t":307,"v":5.6},{"g":"d","p":"0.85","t":368,"v":5.9},{"g":"d","p":"0.85","t":441,"v":6.3},{"g":"d","p":"0.85","t":530,"v":6.5},{"g":"d","p":"0.85","t":636,"v":5.7},{"g":"d","p":"0.85","t":763,"v":5.6},{"g":"d","p":"0.85","t":915,"v":5.8},{"g":"d","p":"0.85","t":1098,"v":5.7},{"g":"d","p":"0.85","t":1318,"v":5.2},{"g":"d","p":"0.85","t":1581,"v":5.5},{"g":"d","p":"0.85","t":1897,"v":5.8},{"g":"d","p":"0.85","t":2277,"v":5.2},{"g":"d","p":"0.85","t":2732,"v":5.5},{"g":"d","p":"0.85","t":3278,"v":5.7},{"g":"d","p":"0.85","t":3934,"v":6.0},{"g":"d","p":"0.85","t":4721,"v":5.7},{"g":"d","p":"0.85","t":5665,"v":5.4},{"g":"d","p":"0.85","t":6798,"v":5.8},{"g":"d","p":"0.85","t":8158,"v":5.5},{"g":"d","p":"0.85","t":8900,"v":5.6},
{"g":"d","p":"0.80","t":1,"v":3.0},{"g":"d","p":"0.80","t":2,"v":3.0},{"g":"d","p":"0.80","t":3,"v":3.0},{"g":"d","p":"0.80","t":4,"v":3.2},{"g":"d","p":"0.80","t":5,"v":3.5},{"g":"d","p":"0.80","t":6,"v":3.8},{"g":"d","p":"0.80","t":7,"v":4.0},{"g":"d","p":"0.80","t":8,"v":4.2},{"g":"d","p":"0.80","t":9,"v":4.3},{"g":"d","p":"0.80","t":10,"v":4.4},{"g":"d","p":"0.80","t":12,"v":4.5},{"g":"d","p":"0.80","t":14,"v":4.7},{"g":"d","p":"0.80","t":17,"v":5.0},{"g":"d","p":"0.80","t":20,"v":5.3},{"g":"d","p":"0.80","t":24,"v":5.5},{"g":"d","p":"0.80","t":29,"v":5.7},{"g":"d","p":"0.80","t":35,"v":5.6},{"g":"d","p":"0.80","t":42,"v":5.5},{"g":"d","p":"0.80","t":50,"v":5.3},{"g":"d","p":"0.80","t":60,"v":5.5},{"g":"d","p":"0.80","t":72,"v":5.2},{"g":"d","p":"0.80","t":86,"v":5.0},{"g":"d","p":"0.80","t":103,"v":5.0},{"g":"d","p":"0.80","t":124,"v":4.9},{"g":"d","p":"0.80","t":148,"v":4.8},{"g":"d","p":"0.80","t":178,"v":4.7},{"g":"d","p":"0.80","t":213,"v":4.9},{"g":"d","p":"0.80","t":256,"v":4.7},{"g":"d","p":"0.80","t":307,"v":4.6},{"g":"d","p":"0.80","t":368,"v":4.8},{"g":"d","p":"0.80","t":441,"v":5.0},{"g":"d","p":"0.80","t":530,"v":4.8},{"g":"d","p":"0.80","t":636,"v":5.0},{"g":"d","p":"0.80","t":763,"v":4.9},{"g":"d","p":"0.80","t":915,"v":4.6},{"g":"d","p":"0.80","t":1098,"v":3.8},{"g":"d","p":"0.80","t":1318,"v":4.5},{"g":"d","p":"0.80","t":1581,"v":4.8},{"g":"d","p":"0.80","t":1897,"v":4.4},{"g":"d","p":"0.80","t":2277,"v":4.7},{"g":"d","p":"0.80","t":2732,"v":4.2},{"g":"d","p":"0.80","t":3278,"v":4.6},{"g":"d","p":"0.80","t":3934,"v":4.0},{"g":"d","p":"0.80","t":4721,"v":5.0},{"g":"d","p":"0.80","t":5665,"v":5.7},{"g":"d","p":"0.80","t":6798,"v":5.4},{"g":"d","p":"0.80","t":8158,"v":5.2},{"g":"d","p":"0.80","t":8900,"v":5.3},
{"g":"d","p":"0.75","t":1,"v":2.9},{"g":"d","p":"0.75","t":2,"v":2.9},{"g":"d","p":"0.75","t":3,"v":2.9},{"g":"d","p":"0.75","t":4,"v":3.0},{"g":"d","p":"0.75","t":5,"v":3.2},{"g":"d","p":"0.75","t":6,"v":3.4},{"g":"d","p":"0.75","t":7,"v":3.6},{"g":"d","p":"0.75","t":8,"v":3.8},{"g":"d","p":"0.75","t":9,"v":3.9},{"g":"d","p":"0.75","t":10,"v":4.0},{"g":"d","p":"0.75","t":12,"v":4.1},{"g":"d","p":"0.75","t":14,"v":4.2},{"g":"d","p":"0.75","t":17,"v":4.2},{"g":"d","p":"0.75","t":20,"v":4.3},{"g":"d","p":"0.75","t":24,"v":4.4},{"g":"d","p":"0.75","t":29,"v":4.3},{"g":"d","p":"0.75","t":35,"v":4.5},{"g":"d","p":"0.75","t":42,"v":4.3},{"g":"d","p":"0.75","t":50,"v":4.4},{"g":"d","p":"0.75","t":60,"v":4.2},{"g":"d","p":"0.75","t":72,"v":4.5},{"g":"d","p":"0.75","t":86,"v":4.3},{"g":"d","p":"0.75","t":103,"v":4.2},{"g":"d","p":"0.75","t":124,"v":4.4},{"g":"d","p":"0.75","t":148,"v":4.2},{"g":"d","p":"0.75","t":178,"v":4.5},{"g":"d","p":"0.75","t":213,"v":4.3},{"g":"d","p":"0.75","t":256,"v":4.6},{"g":"d","p":"0.75","t":307,"v":4.4},{"g":"d","p":"0.75","t":368,"v":4.8},{"g":"d","p":"0.75","t":441,"v":4.5},{"g":"d","p":"0.75","t":530,"v":4.9},{"g":"d","p":"0.75","t":636,"v":4.7},{"g":"d","p":"0.75","t":763,"v":5.0},{"g":"d","p":"0.75","t":915,"v":4.8},{"g":"d","p":"0.75","t":1098,"v":5.3},{"g":"d","p":"0.75","t":1318,"v":5.0},{"g":"d","p":"0.75","t":1581,"v":5.8},{"g":"d","p":"0.75","t":1897,"v":5.2},{"g":"d","p":"0.75","t":2277,"v":6.1},{"g":"d","p":"0.75","t":2732,"v":5.5},{"g":"d","p":"0.75","t":3278,"v":6.5},{"g":"d","p":"0.75","t":3934,"v":7.0},{"g":"d","p":"0.75","t":4721,"v":6.2},{"g":"d","p":"0.75","t":5665,"v":8.5},{"g":"d","p":"0.75","t":6798,"v":7.0},{"g":"d","p":"0.75","t":8158,"v":8.0},{"g":"d","p":"0.75","t":8900,"v":7.9},
{"g":"d","p":"0.70","t":1,"v":2.7},{"g":"d","p":"0.70","t":2,"v":2.8},{"g":"d","p":"0.70","t":3,"v":2.8},{"g":"d","p":"0.70","t":4,"v":2.9},{"g":"d","p":"0.70","t":5,"v":3.0},{"g":"d","p":"0.70","t":6,"v":3.1},{"g":"d","p":"0.70","t":7,"v":3.1},{"g":"d","p":"0.70","t":8,"v":3.2},{"g":"d","p":"0.70","t":9,"v":3.3},{"g":"d","p":"0.70","t":10,"v":3.3},{"g":"d","p":"0.70","t":12,"v":3.4},{"g":"d","p":"0.70","t":14,"v":3.5},{"g":"d","p":"0.70","t":17,"v":3.5},{"g":"d","p":"0.70","t":20,"v":3.6},{"g":"d","p":"0.70","t":24,"v":3.8},{"g":"d","p":"0.70","t":29,"v":3.7},{"g":"d","p":"0.70","t":35,"v":3.5},{"g":"d","p":"0.70","t":42,"v":3.3},{"g":"d","p":"0.70","t":50,"v":3.6},{"g":"d","p":"0.70","t":60,"v":4.0},{"g":"d","p":"0.70","t":72,"v":3.6},{"g":"d","p":"0.70","t":86,"v":3.4},{"g":"d","p":"0.70","t":103,"v":3.9},{"g":"d","p":"0.70","t":124,"v":4.5},{"g":"d","p":"0.70","t":148,"v":4.0},{"g":"d","p":"0.70","t":178,"v":4.6},{"g":"d","p":"0.70","t":213,"v":3.8},{"g":"d","p":"0.70","t":256,"v":3.4},{"g":"d","p":"0.70","t":307,"v":3.0},{"g":"d","p":"0.70","t":368,"v":2.8},{"g":"d","p":"0.70","t":441,"v":4.4},{"g":"d","p":"0.70","t":530,"v":7.0},{"g":"d","p":"0.70","t":636,"v":4.5},{"g":"d","p":"0.70","t":763,"v":6.0},{"g":"d","p":"0.70","t":915,"v":5.0},{"g":"d","p":"0.70","t":1100,"v":16.4},{"g":"d","p":"0.70","t":1250,"v":9.0},{"g":"d","p":"0.70","t":1400,"v":12.0},{"g":"d","p":"0.70","t":1660,"v":20.8},{"g":"d","p":"0.70","t":1820,"v":10.0},{"g":"d","p":"0.70","t":2040,"v":14.0},{"g":"d","p":"0.70","t":2300,"v":8.3},{"g":"d","p":"0.70","t":2700,"v":9.5},{"g":"d","p":"0.70","t":3160,"v":16.0},{"g":"d","p":"0.70","t":3630,"v":12.6},{"g":"d","p":"0.70","t":4170,"v":13.0},{"g":"d","p":"0.70","t":4680,"v":25.6},{"g":"d","p":"0.70","t":5250,"v":8.3},{"g":"d","p":"0.70","t":6030,"v":38.0},{"g":"d","p":"0.70","t":6450,"v":31.0},{"g":"d","p":"0.70","t":6760,"v":23.0},{"g":"d","p":"0.70","t":7410,"v":8.5},{"g":"d","p":"0.70","t":8130,"v":10.0},{"g":"d","p":"0.70","t":8900,"v":33.5}
]},
"concat":[
{"width":305,"height":178,"title":{"text":"a)","dx":-57,"dy":6},
"layer":[
{"data":{"name":"refA"},"mark":{"type":"rule","strokeDash":[1.2,1.8],"color":"#222","strokeWidth":1},
"encoding":{"y":{"field":"v","type":"quantitative","scale":{"domain":[0.4,2.1],"nice":false,"zero":false},"axis":{"values":[0.5,1,1.5,2],"format":".1f","title":"α(t)"}}}},
{"data":{"name":"main"},"transform":[{"filter":"datum.g=='a'"}],"mark":{"type":"line","strokeDash":[5,2.5],"strokeWidth":1.5,"point":{"filled":true,"size":14}},
"encoding":{
"x":{"field":"t","type":"quantitative","scale":{"type":"log","domain":[0.64,10700],"nice":false},"axis":{"values":[1,10,100,1000,10000],"labelExpr":"datum.value==1?'10⁰':datum.value==10?'10¹':datum.value==100?'10²':datum.value==1000?'10³':'10⁴'","title":"t","labelFlush":false}},
"y":{"field":"v","type":"quantitative","scale":{"domain":[0.4,2.1],"nice":false,"zero":false},"axis":{"values":[0.5,1,1.5,2],"format":".1f","title":"α(t)"}},
"color":{"field":"p","type":"nominal","scale":{"domain":["0.90","0.85","0.80","0.75","0.70"],"range":["#148a14","#0b3b3f","#12307a","#1a80b4","#8ecae2"]},"legend":null}}}
]},
{"width":305,"height":178,"title":{"text":"b)","dx":-57,"dy":-4},
"layer":[
{"data":{"name":"refB"},"mark":{"type":"rule","strokeDash":[1.2,1.8],"color":"#222","strokeWidth":1},
"encoding":{"y":{"field":"v","type":"quantitative","scale":{"domain":[-1,20],"nice":false,"zero":false},"axis":{"values":[0,5,10,15,20],"title":"Dα(t)"}}}},
{"data":{"name":"main"},"transform":[{"filter":"datum.g=='b'"}],"mark":{"type":"line","strokeDash":[5,2.5],"strokeWidth":1.5,"point":{"filled":true,"size":14}},
"encoding":{
"x":{"field":"t","type":"quantitative","scale":{"type":"log","domain":[0.64,10700],"nice":false},"axis":{"values":[1,10,100,1000,10000],"labelExpr":"datum.value==1?'10⁰':datum.value==10?'10¹':datum.value==100?'10²':datum.value==1000?'10³':'10⁴'","title":"t","labelFlush":false}},
"y":{"field":"v","type":"quantitative","scale":{"domain":[-1,20],"nice":false,"zero":false},"axis":{"values":[0,5,10,15,20],"title":"Dα(t)"}},
"color":{"field":"p","type":"nominal","scale":{"domain":["0.90","0.85","0.80","0.75","0.70"],"range":["#148a14","#0b3b3f","#12307a","#1a80b4","#8ecae2"]},
"legend":{"orient":"none","legendX":16,"legendY":8,"title":null,"symbolType":"M-1.5,0H1.5","symbolDash":[5,2.5],"symbolStrokeWidth":1.5,"symbolSize":256,"symbolFillColor":"transparent","labelFont":"Liberation Serif, DejaVu Serif, serif","labelFontSize":15,"labelColor":"#333","rowPadding":1.5,"padding":0,"labelOffset":15,"labelExpr":"'p = ' + datum.label"}}}}
]},
{"width":305,"height":178,"title":{"text":"c)","dx":-57,"dy":6},
"layer":[
{"data":{"name":"refA"},"mark":{"type":"rule","strokeDash":[1.2,1.8],"color":"#222","strokeWidth":1},
"encoding":{"y":{"field":"v","type":"quantitative","scale":{"domain":[0.4,2.1],"nice":false,"zero":false},"axis":{"values":[0.5,1,1.5,2],"format":".1f","title":"α(t)"}}}},
{"data":{"name":"main"},"transform":[{"filter":"datum.g=='c'"}],"mark":{"type":"line","strokeDash":[5,2.5],"strokeWidth":1.5,"point":{"filled":true,"size":14}},
"encoding":{
"x":{"field":"t","type":"quantitative","scale":{"type":"log","domain":[0.64,10700],"nice":false},"axis":{"values":[1,10,100,1000,10000],"labelExpr":"datum.value==1?'10⁰':datum.value==10?'10¹':datum.value==100?'10²':datum.value==1000?'10³':'10⁴'","title":"t","labelFlush":false}},
"y":{"field":"v","type":"quantitative","scale":{"domain":[0.4,2.1],"nice":false,"zero":false},"axis":{"values":[0.5,1,1.5,2],"format":".1f","title":"α(t)"}},
"color":{"field":"p","type":"nominal","scale":{"domain":["0.90","0.85","0.80","0.75","0.70"],"range":["#148a14","#0b3b3f","#12307a","#1a80b4","#8ecae2"]},"legend":null}}}
]},
{"width":305,"height":178,"title":{"text":"d)","dx":-57,"dy":-4},
"layer":[
{"data":{"name":"refB"},"mark":{"type":"rule","strokeDash":[1.2,1.8],"color":"#222","strokeWidth":1},
"encoding":{"y":{"field":"v","type":"quantitative","scale":{"domain":[-1.07,50.3],"nice":false,"zero":false},"axis":{"values":[0,20,40],"title":"Dα(t)"}}}},
{"data":{"name":"main"},"transform":[{"filter":"datum.g=='d'"}],"mark":{"type":"line","strokeDash":[5,2.5],"strokeWidth":1.5,"point":{"filled":true,"size":14}},
"encoding":{
"x":{"field":"t","type":"quantitative","scale":{"type":"log","domain":[0.64,10700],"nice":false},"axis":{"values":[1,10,100,1000,10000],"labelExpr":"datum.value==1?'10⁰':datum.value==10?'10¹':datum.value==100?'10²':datum.value==1000?'10³':'10⁴'","title":"t","labelFlush":false}},
"y":{"field":"v","type":"quantitative","scale":{"domain":[-1.07,50.3],"nice":false,"zero":false},"axis":{"values":[0,20,40],"title":"Dα(t)"}},
"color":{"field":"p","type":"nominal","scale":{"domain":["0.90","0.85","0.80","0.75","0.70"],"range":["#148a14","#0b3b3f","#12307a","#1a80b4","#8ecae2"]},"legend":null}}}
]}
]
}
